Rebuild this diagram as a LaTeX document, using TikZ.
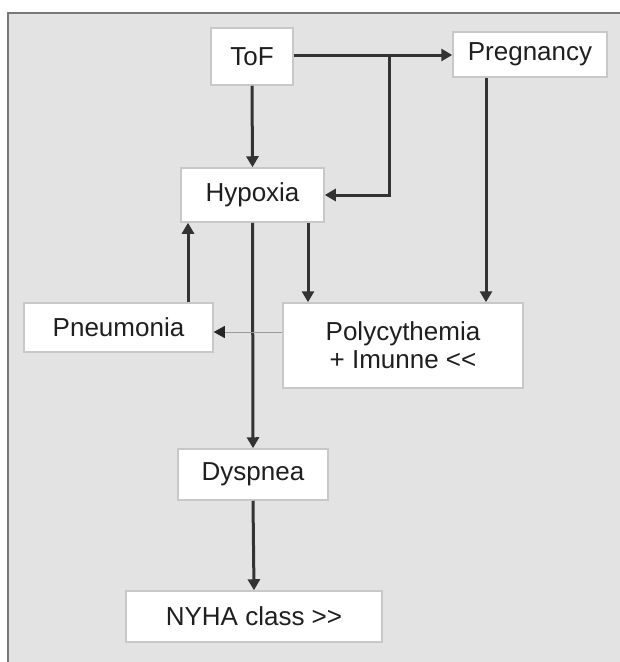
\documentclass[tikz,border=0pt]{standalone}
\usepackage{fontspec}
\setmainfont{Liberation Sans}
\usetikzlibrary{arrows.meta}

\definecolor{bggray}{HTML}{E3E3E3}
\definecolor{framegray}{HTML}{777777}
\definecolor{boxgray}{HTML}{C8C8C8}
\definecolor{linegray}{HTML}{333333}
\definecolor{thingray}{HTML}{9A9A9A}

\begin{document}
\begin{tikzpicture}[x=1pt,y=-1pt,
  box/.style={draw=boxgray,line width=1.5pt,fill=white,inner sep=0pt,
    font=\fontsize{26}{28}\selectfont,text=black!88,align=center},
  arr/.style={draw=linegray,line width=3pt,
    -{Triangle[width=12pt,length=11pt]}},
  thin arr/.style={draw=thingray,line width=1pt,
    -{Triangle[width=12pt,length=11pt,fill=black!85,color=black!85]}}]

  \useasboundingbox (0,0) rectangle (620,662);
  \fill[white] (0,0) rectangle (620,662);
  \fill[bggray] (8,13) rectangle (620,662);
  \draw[framegray,line width=2pt] (8,662) -- (8,13) -- (620,13);

  \node[box,minimum width=82pt,minimum height=57pt]  (tof)  at (252,56.5)  {ToF};
  \node[box,minimum width=154pt,minimum height=45pt] (preg) at (530,54.5)  {Pregnancy};
  \node[box,minimum width=143pt,minimum height=54pt] (hyp)  at (252.5,195) {Hypoxia};
  \node[box,minimum width=189pt,minimum height=49pt] (pneu) at (118.5,327.5) {Pneumonia};
  \node[box,minimum width=240pt,minimum height=85pt] (poly) at (403,345.5) {Polycythemia\\+ Imunne <{}<};
  \node[box,minimum width=150pt,minimum height=51pt] (dysp) at (253,474.5) {Dyspnea};
  \node[box,minimum width=256pt,minimum height=51pt] (nyha) at (254,616.5) {NYHA class >{}>};

  % where the lines run
  \coordinate (top)   at (0,55);
  \coordinate (split) at (389,55);
  \coordinate (pregx) at (486,0);
  \coordinate (hypx)  at (308,0);
  \coordinate (pneux) at (188,0);
  \coordinate (polyy) at (0,332);

  \draw[arr] (tof.east |- top) -- (preg.west |- top);
  \draw[arr] (split) |- (hyp.east);
  \draw[arr] (tof.south) -- (hyp.north);
  \draw[arr] (preg.south -| pregx) -- (poly.north -| pregx);
  \draw[arr] (hyp.south -| hypx) -- (poly.north -| hypx);
  \draw[arr] (pneu.north -| pneux) -- (hyp.south -| pneux);
  \draw[arr] (hyp.south) -- (dysp.north);
  \draw[arr] (dysp.south) -- (nyha.north);
  \draw[thin arr] (poly.west |- polyy) -- (pneu.east |- polyy);

\end{tikzpicture}
\end{document}
